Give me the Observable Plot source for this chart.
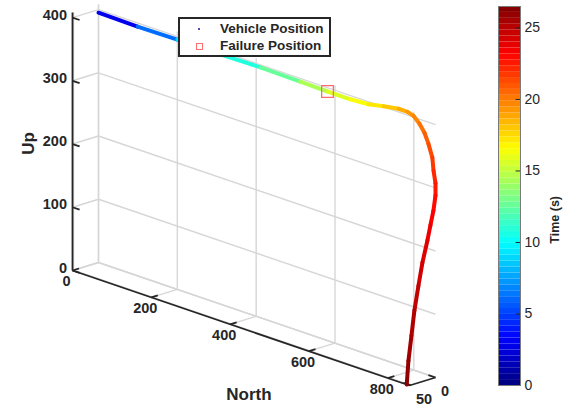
<!DOCTYPE html>
<html><head><meta charset="utf-8">
<script src="https://cdn.jsdelivr.net/npm/d3@7"></script>
<script src="https://cdn.jsdelivr.net/npm/@observablehq/plot@0.6"></script>
<style>
body{margin:0;background:#fff;}
#wrap{position:relative;width:568px;height:406px;font-family:"Liberation Sans",Arial,Helvetica,sans-serif;color:#262626;overflow:hidden;}
#main{position:absolute;left:0;top:0;}
#cbar{position:absolute;left:470px;top:0;}
#legend{position:absolute;left:178px;top:17px;width:153px;height:40px;box-sizing:border-box;border:2px solid #262626;background:#fff;}
#legend .lab{position:absolute;left:40px;font-size:13.5px;font-weight:bold;line-height:16px;white-space:nowrap;}
#legend .dot{position:absolute;left:18px;top:8.5px;width:2.4px;height:2.4px;border-radius:50%;background:#1010a0;}
#legend .sq{position:absolute;left:16px;top:24px;width:5px;height:5px;border:1px solid #ff6e6e;}
</style></head><body>
<div id="wrap">
  <div id="main"></div>
  <div id="cbar"></div>
  <div id="legend">
    <div class="dot"></div><div class="lab" style="top:1.5px">Vehicle Position</div>
    <div class="sq"></div><div class="lab" style="top:19px">Failure Position</div>
  </div>
</div>
<script>
// ---- data ----
const timeS = [1.2, 4.5, 7.8, 10.0, 11.6, 13.6, 15.2, 16.1, 16.7, 17.6, 18.4, 19.0, 19.5, 20.0, 20.5, 21.0, 21.5, 22.0, 22.4, 22.8, 23.1, 23.5, 23.8, 24.2, 24.6, 25.0, 25.4, 25.8, 26.3];
const north = [0, 99, 200, 309, 411, 512, 581, 639, 685, 723, 761, 784, 799, 814, 827, 837, 847, 850, 855, 855, 853, 852, 851, 850, 849, 849, 848, 848, 848];
const east  = [0, 0, 0, 0, 0, 0, 0, 0, 0, 0, 0, 0, 0, 0, 0, 0, 0, 0, 0, 0, 2.6, 7.8, 13, 22.2, 29.4, 37.4, 42.6, 48.6, 52];
const up    = [395, 394, 395, 395, 396, 395, 394, 394, 396, 401, 405, 405, 402, 393, 381, 366, 346, 326, 307, 288, 264, 242, 219, 186, 151, 114, 75, 37, 0];
const failureNorth = [581], failureEast = [0], failureUp = [394];
const northTicks = [0, 200, 400, 600, 800];
const eastTicks = [0, 50];
const upTicks = [0, 100, 200, 300, 400];
const timeTicks = [0, 5, 10, 15, 20, 25];
const TMAX = 26.5;
const BOX = {N: 855, E: 52, U: 408};

// ---- 3D view (orthographic projection of the axes box) ----
const ORIGIN = [98, 262];             // N=0,E=0,U=0
const VN = [337, 115], VE = [-26, 8], VU = [0, -258];
function proj(n, e, u) {
  return [ORIGIN[0] + VN[0]*n/BOX.N + VE[0]*e/BOX.E + VU[0]*u/BOX.U,
          ORIGIN[1] + VN[1]*n/BOX.N + VE[1]*e/BOX.E + VU[1]*u/BOX.U];
}
function seg(a, b, extra) { const p = proj(...a), q = proj(...b); return Object.assign({x1:p[0], y1:p[1], x2:q[0], y2:q[1]}, extra||{}); }

function jet(v) {
  const c = x => Math.max(0, Math.min(1, x));
  const r = c(Math.min(4*v - 1.5, -4*v + 4.5)), g = c(Math.min(4*v - 0.5, -4*v + 3.5)), b = c(Math.min(4*v + 0.5, -4*v + 2.5));
  return `rgb(${Math.round(r*255)},${Math.round(g*255)},${Math.round(b*255)})`;
}
const colorOpt = {type: "linear", domain: [0, TMAX], interpolate: jet};

// gridlines
const grid = [];
northTicks.forEach(n => { grid.push(seg([n,0,0],[n,0,BOX.U])); grid.push(seg([n,0,0],[n,BOX.E,0])); });
upTicks.forEach(u => { grid.push(seg([0,0,u],[BOX.N,0,u])); grid.push(seg([0,0,u],[0,BOX.E,u])); });
eastTicks.forEach(e => { grid.push(seg([0,e,0],[0,e,BOX.U])); grid.push(seg([0,e,0],[BOX.N,e,0])); });

// axes lines + ticks
const axes = [
  seg([0,BOX.E,0],[0,BOX.E,BOX.U]),
  seg([0,BOX.E,0],[BOX.N,BOX.E,0]),
  seg([BOX.N,0,0],[BOX.N,BOX.E,0])
];
upTicks.forEach(u => axes.push(seg([0,BOX.E,u],[18,BOX.E,u])));
northTicks.forEach(n => axes.push(seg([n,BOX.E,0],[n,BOX.E-13,0])));
eastTicks.forEach(e => axes.push(seg([BOX.N,e,0],[BOX.N-18,e,0])));

// trajectory segments
const path = d3.range(north.length - 1).map(i =>
  seg([north[i],east[i],up[i]],[north[i+1],east[i+1],up[i+1]], {t:(timeS[i]+timeS[i+1])/2}));

const W = 470, H = 406;
const font = '"Liberation Sans", Arial, Helvetica, sans-serif';
const ink = "#262626";
const main = Plot.plot({
  width: W, height: H, margin: 0,
  x: {domain: [0, W], range: [0, W], axis: null},
  y: {domain: [0, H], range: [0, H], axis: null},
  color: colorOpt,
  style: {fontFamily: font, overflow: "visible", background: "white"},
  marks: [
    Plot.link(grid, {x1:"x1", y1:"y1", x2:"x2", y2:"y2", stroke:"#d6d6d6", strokeWidth:1.4}),
    Plot.link(axes, {x1:"x1", y1:"y1", x2:"x2", y2:"y2", stroke:ink, strokeWidth:1.8}),
    Plot.link(path, {x1:"x1", y1:"y1", x2:"x2", y2:"y2", stroke:"t", strokeWidth:4, strokeLinecap:"round"}),
    Plot.dot(failureNorth.map((n,i)=>proj(n,failureEast[i],failureUp[i])), {x:d=>d[0], y:d=>d[1], symbol:"square", r:6.6, stroke:"#ff6e6e", strokeWidth:1.3, fill:"none"}),
    Plot.text(upTicks, {x:u=>proj(0,BOX.E,u)[0], y:u=>proj(0,BOX.E,u)[1], text:d=>String(d), textAnchor:"end", dx:-5.5, dy:-2.5, fontSize:14.5, fontWeight:"bold", fill:ink}),
    Plot.text(northTicks, {x:n=>proj(n,BOX.E,0)[0], y:n=>proj(n,BOX.E,0)[1], text:d=>String(d), textAnchor:"middle", dx:-6, dy:11, fontSize:14.5, fontWeight:"bold", fill:ink}),
    Plot.text(eastTicks, {x:e=>proj(BOX.N,e,0)[0], y:e=>proj(BOX.N,e,0)[1], text:d=>String(d), textAnchor:"start", dx:5.5, dy:14, fontSize:14.5, fontWeight:"bold", fill:ink}),
    Plot.text(["Up"], {x:()=>proj(0,BOX.E,BOX.U/2)[0], y:()=>proj(0,BOX.E,BOX.U/2)[1], text:d=>d, dx:-44, dy:2, rotate:-90, fontSize:17, fontWeight:"bold", fill:ink}),
    Plot.text(["North"], {x:()=>proj(BOX.N/2,BOX.E,0)[0], y:()=>proj(BOX.N/2,BOX.E,0)[1], text:d=>d, dx:8, dy:67, fontSize:17, fontWeight:"bold", fill:ink})
  ]
});
document.getElementById("main").append(main);

// colorbar
const bands = d3.range(64).map(i => ({y1: i*TMAX/64, y2: (i+1)*TMAX/64, t: (i+0.5)*TMAX/64}));
const cbar = Plot.plot({
  width: 98, height: 406, marginLeft: 28, marginRight: 48, marginTop: 6, marginBottom: 21,
  x: {domain: [0, 1], axis: null},
  y: {domain: [0, TMAX], axis: null},
  color: colorOpt,
  style: {fontFamily: font, overflow: "visible", background: "transparent"},
  marks: [
    Plot.rect(bands, {x1:()=>0, x2:()=>1, y1:"y1", y2:"y2", fill:"t"}),
    Plot.ruleY(timeTicks, {x1:()=>0.8, x2:()=>1, stroke:ink, strokeWidth:1}),
    Plot.frame({stroke:"#7a7a7a", strokeWidth:1}),
    Plot.axisY(timeTicks, {anchor:"right", tickSize:0, tickPadding:4, fontSize:14, label:null, fill:ink}),
    Plot.text(["Time (s)"], {frameAnchor:"right", dx:34, rotate:-90, fontSize:12.5, fontWeight:"bold", fill:ink})
  ]
});
document.getElementById("cbar").append(cbar);
</script></body></html>
